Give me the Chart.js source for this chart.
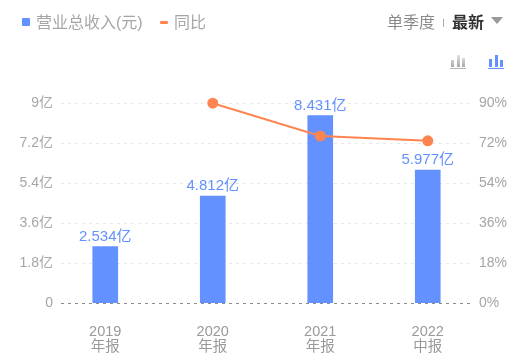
<!DOCTYPE html>
<html>
<head>
<meta charset="utf-8">
<script src="https://cdn.jsdelivr.net/npm/chart.js@4"></script>
<style>
    html, body { margin: 0; padding: 0; background: #fff; overflow: hidden; }
    body { width: 528px; height: 363px; position: relative; font-family: "Liberation Sans", "Noto Sans CJK SC", sans-serif; }
    canvas { position: absolute; left: 0; top: 0; }
    .txt { position: absolute; font-size: 16px; line-height: 22px; white-space: nowrap; color: #a6a6a6; }
    .box { position: absolute; }
</style>
</head>
<body>
<canvas id="revenueChart" width="528" height="363"></canvas>

<div class="box" style="left:22px;top:18px;width:8px;height:8px;background:#6391ff;border-radius:1px"></div>
<div class="txt" style="left:36px;top:12px">营业总收入(元)</div>
<div class="box" style="left:160px;top:21px;width:8px;height:3px;background:#ff8550;border-radius:1px"></div>
<div class="txt" style="left:174px;top:12px">同比</div>
<div class="txt" style="left:387px;top:12px;color:#8a8a8a">单季度</div>
<div class="box" style="left:443px;top:19px;width:1px;height:8px;background:#aaa"></div>
<div class="txt" style="left:452px;top:12px;color:#333;font-weight:bold">最新</div>
<div class="box" style="left:491px;top:17px;width:0;height:0;border-left:6.5px solid transparent;border-right:6.5px solid transparent;border-top:7px solid #999"></div>

<div class="box" style="left:451px;top:56px;width:3px;height:11px;background:linear-gradient(#e3e3e3,#a8a8a8);clip-path:inset(4px 0 0 0)"></div>
<div class="box" style="left:457px;top:55px;width:3px;height:12px;background:linear-gradient(#e3e3e3,#a8a8a8)"></div>
<div class="box" style="left:462px;top:56px;width:3px;height:11px;background:linear-gradient(#e3e3e3,#a8a8a8);clip-path:inset(2px 0 0 0)"></div>
<div class="box" style="left:450px;top:68px;width:16px;height:1px;background:#b5b5b5"></div>

<div class="box" style="left:489px;top:59px;width:3px;height:8px;background:#6391ff"></div>
<div class="box" style="left:495px;top:55px;width:3px;height:12px;background:#6391ff"></div>
<div class="box" style="left:500px;top:60px;width:3px;height:7px;background:#6391ff"></div>
<div class="box" style="left:488px;top:68px;width:16px;height:1px;background:#6391ff"></div>

<script>
var years = ["2019", "2020", "2021", "2022"];
var periods = ["年报", "年报", "年报", "中报"];
var revenue = [2.534, 4.812, 8.431, 5.977];
var growth = [null, 89.9, 75.2, 73.0];
var revenueTicks = [0, 1.8, 3.6, 5.4, 7.2, 9];
var growthTicks = [0, 18, 36, 54, 72, 90];

var fontFamily = '"Liberation Sans", "Noto Sans CJK SC", sans-serif';
var categories = years.map(function (y, i) { return [y, periods[i]]; });

function drawDashes(chart, value, color) {
    var c = chart.ctx;
    var y = Math.round(chart.scales.y.getPixelForValue(value)) + 0.5;
    c.save();
    c.strokeStyle = color;
    c.lineWidth = 1;
    c.setLineDash([3, 4]);
    c.beginPath();
    c.moveTo(61, y);
    c.lineTo(471, y);
    c.stroke();
    c.restore();
}

// dotted grid stops short of the plot edges, so it can't use the scale grid
var gridPlugin = {
    id: "dashGrid",
    beforeDatasetsDraw: function (chart) {
        revenueTicks.forEach(function (t) {
            if (t !== 0) drawDashes(chart, t, "#e8e8e8");
        });
    },
    afterDatasetsDraw: function (chart) {
        drawDashes(chart, 0, "#8c8c8c");
    }
};

var labelPlugin = {
    id: "barLabels",
    afterDatasetsDraw: function (chart) {
        var c = chart.ctx;
        var bars = chart.getDatasetMeta(1).data;
        c.save();
        c.font = "15px " + fontFamily;
        c.fillStyle = "#6391ff";
        c.textAlign = "center";
        c.textBaseline = "alphabetic";
        bars.forEach(function (bar, i) {
            c.fillText(revenue[i].toFixed(3) + "亿", bar.x, bar.y - 6);
        });
        c.restore();
    }
};

new Chart(document.getElementById("revenueChart"), {
    data: {
        labels: categories,
        datasets: [
            {
                type: "line",
                label: "同比",
                data: growth,
                yAxisID: "y1",
                borderColor: "#ff8550",
                backgroundColor: "#ff8550",
                borderWidth: 2,
                pointRadius: 4.5,
                pointHoverRadius: 4.5,
                tension: 0,
                clip: false,
                order: 0
            },
            {
                type: "bar",
                label: "营业总收入(元)",
                data: revenue,
                yAxisID: "y",
                backgroundColor: "#6391ff",
                barThickness: 25,
                order: 1
            }
        ]
    },
    options: {
        responsive: false,
        animation: false,
        layout: { padding: { top: 103, right: 0, bottom: 0, left: 0 } },
        plugins: {
            legend: { display: false },
            tooltip: { enabled: false }
        },
        scales: {
            x: {
                grid: { display: false },
                border: { display: false },
                afterFit: function (axis) { axis.height = 60; },
                ticks: {
                    color: "#999",
                    padding: 13,
                    maxRotation: 0,
                    font: { family: fontFamily, size: 14.5, lineHeight: 1.08 }
                }
            },
            y: {
                position: "left",
                min: 0,
                max: 9,
                grid: { display: false, drawTicks: false },
                border: { display: false },
                afterFit: function (axis) { axis.width = 51.5; },
                afterBuildTicks: function (axis) {
                    axis.ticks = revenueTicks.map(function (v) { return { value: v }; });
                },
                ticks: {
                    color: "#a6a6a6",
                    // mirror + far keeps the labels unclipped where they overhang the plot edge
                    mirror: true,
                    crossAlign: "far",
                    padding: -32,
                    font: { family: fontFamily, size: 14 },
                    callback: function (v) { return v === 0 ? "0" : v + "亿"; }
                }
            },
            y1: {
                position: "right",
                min: 0,
                max: 90,
                grid: { display: false, drawTicks: false },
                border: { display: false },
                afterFit: function (axis) { axis.width = 46.5; },
                afterBuildTicks: function (axis) {
                    axis.ticks = growthTicks.map(function (v) { return { value: v }; });
                },
                ticks: {
                    color: "#a6a6a6",
                    mirror: true,
                    crossAlign: "far",
                    padding: 25.5,
                    font: { family: fontFamily, size: 14 },
                    callback: function (v) { return v + "%"; }
                }
            }
        }
    },
    plugins: [gridPlugin, labelPlugin]
});
</script>
</body>
</html>
